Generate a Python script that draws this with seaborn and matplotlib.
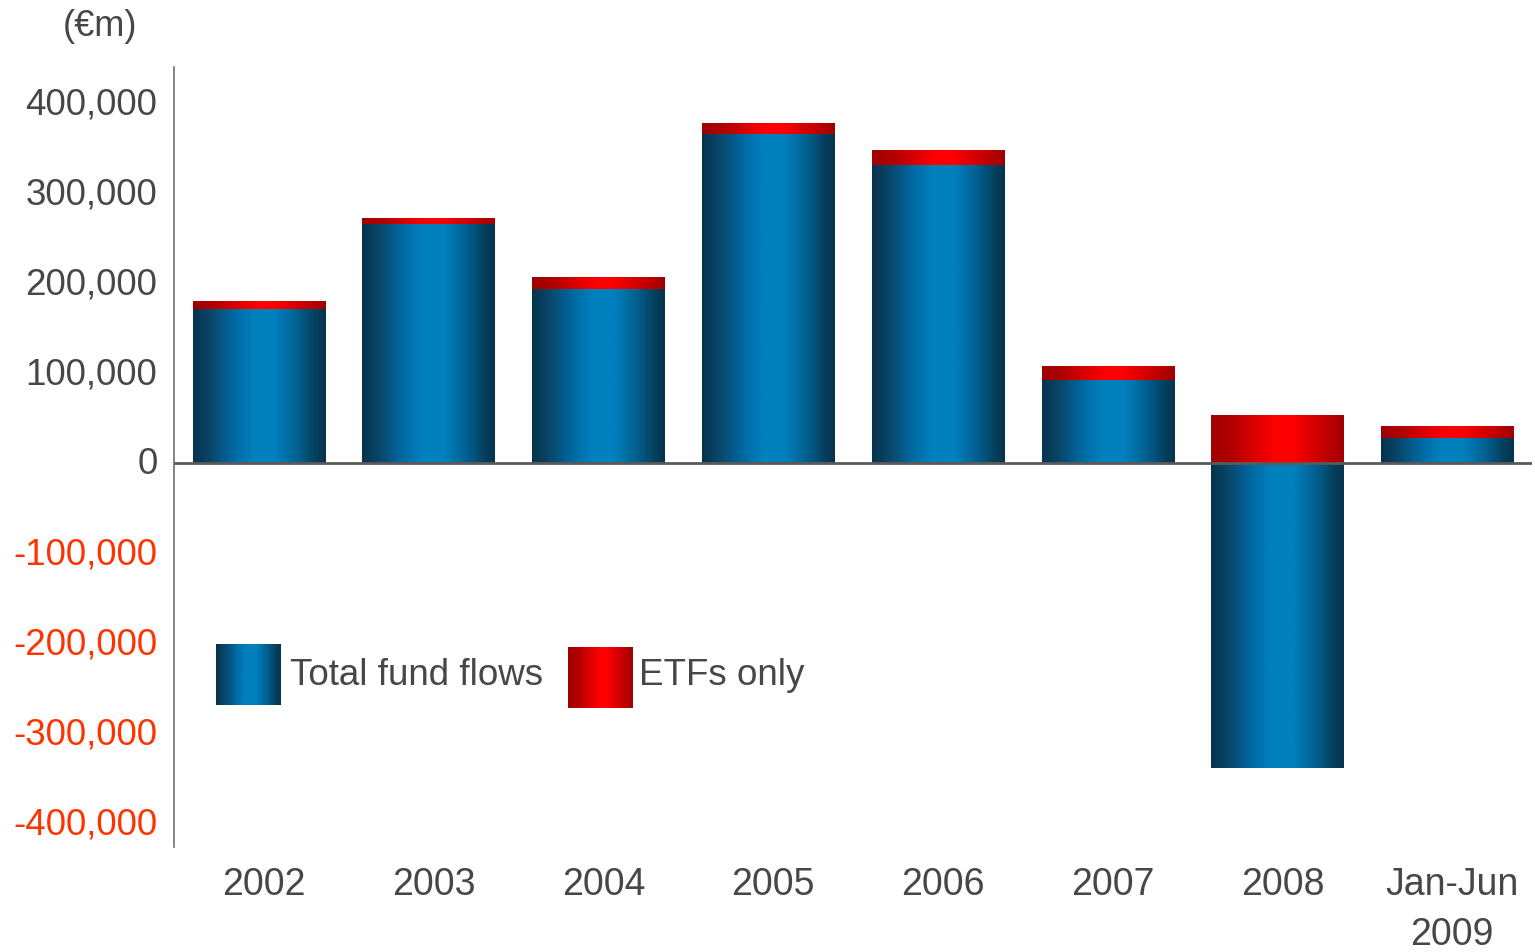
import numpy as np
import pandas as pd
import matplotlib
matplotlib.use("Agg")
import matplotlib.pyplot as plt
import matplotlib.transforms as mtransforms
from matplotlib.colors import LinearSegmentedColormap
import seaborn as sns

# Net fund flows (EUR millions)
periods = ["2002", "2003", "2004", "2005", "2006", "2007", "2008", "Jan-Jun\n2009"]
total_flows = [171000, 265000, 193000, 366000, 331000, 92000, -339000, 28000]
etf_flows = [8000, 6000, 13000, 12000, 16000, 15000, 53000, 13000]
y_ticks = [-400000, -300000, -200000, -100000, 0, 100000, 200000, 300000, 400000]

sns.set_theme(style="white")
plt.rcParams["font.family"] = ["Liberation Sans", "DejaVu Sans"]

TEXT = "#474747"
NEG = "#ff3300"

blue_cmap = LinearSegmentedColormap.from_list(
    "blue_bar",
    [(0.0, "#05334d"), (0.12, "#0a4566"), (0.3, "#0068a0"), (0.45, "#0080bd"),
     (0.62, "#0080bd"), (0.8, "#005e8c"), (0.92, "#06405e"), (1.0, "#05334d")])
red_cmap = LinearSegmentedColormap.from_list(
    "red_bar",
    [(0.0, "#a00000"), (0.15, "#b00000"), (0.35, "#e00000"), (0.5, "#ff0000"),
     (0.6, "#ff0000"), (0.8, "#d00000"), (1.0, "#a00000")])
grad = np.linspace(0, 1, 256).reshape(1, -1)

df = pd.DataFrame({"period": periods, "total": total_flows, "etf": etf_flows})
df["etf_base"] = df["total"].clip(lower=0)

fig = plt.figure(figsize=(15.35, 9.53), dpi=100)
ax = fig.add_axes([0.1134, 0.1102, 0.8847, 0.8184])

sns.barplot(data=df, x="period", y="total", color="#0080bd", width=0.78,
            ax=ax, errorbar=None)
n_total = len(ax.patches)
sns.barplot(data=df, x="period", y="etf", bottom=df["etf_base"].values,
            color="#ff0000", width=0.78, ax=ax, errorbar=None)

# Replace the flat fills with horizontal gradients
for i, p in enumerate(list(ax.patches)):
    x0, y0 = p.get_x(), p.get_y()
    w, h = p.get_width(), p.get_height()
    cmap = blue_cmap if i < n_total else red_cmap
    ax.imshow(grad, cmap=cmap, aspect="auto", interpolation="bicubic",
              extent=[x0, x0 + w, min(y0, y0 + h), max(y0, y0 + h)], zorder=2)
    p.set_visible(False)

ax.axhline(0, color="#5a5a5a", lw=2, zorder=3)

ax.set_xlim(-0.5, 7.5)
ax.set_ylim(-427000, 440000)
ax.set_yticks(y_ticks)
ax.set_yticklabels([f"{v:,}" for v in y_ticks])
ax.tick_params(axis="y", length=0, pad=12, labelsize=26.5)
ax.tick_params(axis="x", length=0, pad=14, labelsize=27)

y_shift = mtransforms.ScaledTranslation(0, 0.03, fig.dpi_scale_trans)
for lbl, v in zip(ax.get_yticklabels(), y_ticks):
    lbl.set_color(NEG if v < 0 else TEXT)
    lbl.set_transform(lbl.get_transform() + y_shift)
x_shift = mtransforms.ScaledTranslation(0.05, 0, fig.dpi_scale_trans)
for lbl in ax.get_xticklabels():
    lbl.set_color(TEXT)
    lbl.set_linespacing(1.5)
    lbl.set_transform(lbl.get_transform() + x_shift)
ax.set_xlabel("")
ax.set_ylabel("")

for side in ["top", "right", "bottom"]:
    ax.spines[side].set_visible(False)
ax.spines["left"].set_color("#707070")
ax.spines["left"].set_linewidth(1.2)

fig.text(0.0651, 0.9720, "(€m)", ha="center", va="center", fontsize=26, color=TEXT)

# Legend with gradient swatches
for (left, bottom), cmap, label, tx in [
    ((0.1407, 0.2592), blue_cmap, "Total fund flows", 0.1889),
    ((0.3700, 0.2560), red_cmap, "ETFs only", 0.4163),
]:
    sw = fig.add_axes([left, bottom, 0.0423, 0.064])
    sw.imshow(grad, cmap=cmap, aspect="auto", interpolation="bicubic")
    sw.set_axis_off()
    fig.text(tx, 0.2907, label, ha="left", va="center", fontsize=26.5, color=TEXT)

fig.savefig("out.png", dpi=100, facecolor="white")
